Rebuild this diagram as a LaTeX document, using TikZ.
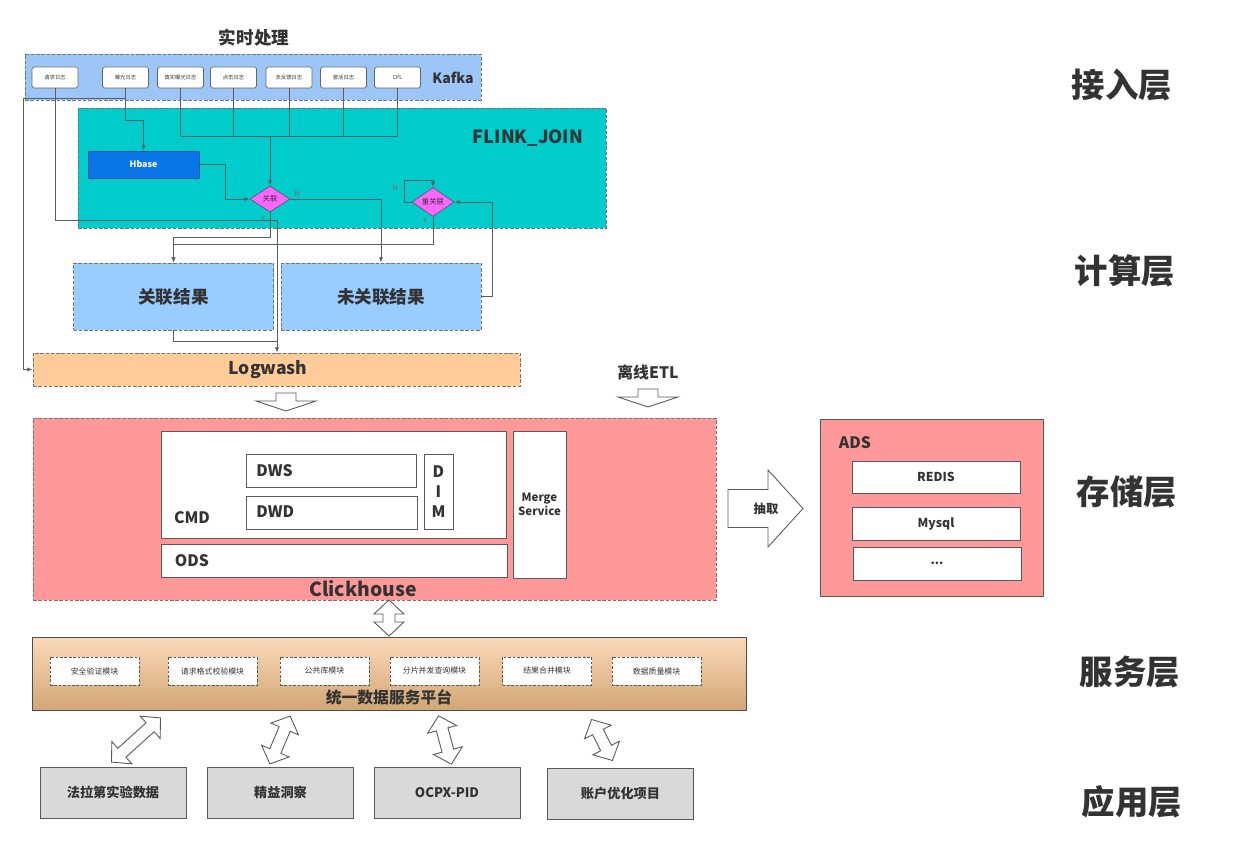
\documentclass[tikz,border=0pt]{standalone}
\usepackage{fontspec}
\setmainfont{Noto Sans CJK SC}
\usetikzlibrary{positioning, arrows.meta, shapes.geometric, calc}

\definecolor{kafkablue}{HTML}{9CC6F7}
\definecolor{flinkteal}{HTML}{00CCCC}
\definecolor{hbaseblue}{HTML}{0A75E6}
\definecolor{joinpink}{HTML}{FF66FF}
\definecolor{resblue}{HTML}{99CCFF}
\definecolor{washorange}{HTML}{FFCC99}
\definecolor{storered}{HTML}{FF9999}
\definecolor{plattop}{HTML}{FAD9B8}
\definecolor{platbot}{HTML}{D2A675}
\definecolor{appgray}{HTML}{D9D9D9}
\definecolor{linegray}{HTML}{55605F}
\definecolor{textdark}{HTML}{333333}
\definecolor{ynred}{HTML}{B0504D}

\newcommand{\fsz}[1]{\fontsize{#1}{#1}\selectfont}
\def\pxl{0.02cm}

\begin{document}
\begin{tikzpicture}[
    x=0.02cm, y=-0.02cm,
    every node/.style={text=textdark, inner sep=0pt},
    wh/.style 2 args={minimum width=#1*\pxl, minimum height=#2*\pxl},
    layerbox/.style={rectangle, draw=gray!90!black, dash pattern=on 2pt off 1pt, line width=0.5pt},
    topic/.style={rectangle, rounded corners=1pt, draw=gray!80!black, fill=white, line width=0.4pt, wh={46}{21}, font=\fsz{3}},
    joinbox/.style={diamond, draw=linegray, fill=joinpink, line width=0.4pt, font=\fsz{4.2}},
    result/.style={layerbox, fill=resblue, wh={200}{67}, font=\bfseries\fsz{10}},
    inbox/.style={rectangle, draw=gray!70!black, fill=white, line width=0.5pt},
    module/.style={rectangle, draw=gray!70!black, dash pattern=on 1.5pt off 1pt, fill=white, line width=0.4pt, wh={89}{28}, font=\fsz{4.5}},
    app/.style={rectangle, draw=gray!70!black, fill=appgray, line width=0.5pt, wh={146}{51}, font=\bfseries\fsz{7.5}},
    layer/.style={font=\bfseries\fsz{19}},
    yn/.style={font=\fsz{4}, text=ynred},
    wire/.style={draw=linegray, line width=0.5pt},
    feed/.style={wire, -{Latex[length=3pt,width=2.4pt]}},
    hollow/.style={draw=gray!70!black, fill=white, line width=0.5pt},
    downarrow/.pic={\draw[hollow] (-10,0) -- (10,0) -- (10,8) -- (30,8) -- (0,18) -- (-30,8) -- (-10,8) -- cycle;},
    rightarrow/.pic={\draw[hollow] (0,-19) -- (40,-19) -- (40,-38.5) -- (75,0) -- (40,38.5) -- (40,19) -- (0,19) -- cycle;},
    dblarrow/.pic={\draw[hollow] (0,-#1) -- (15,{-#1+14}) -- (6,{-#1+14}) -- (6,{#1-14}) -- (15,{#1-14}) -- (0,#1) -- (-15,{#1-14}) -- (-6,{#1-14}) -- (-6,{-#1+14}) -- (-15,{-#1+14}) -- cycle;}]

  \useasboundingbox (0,0) rectangle (1260,844);

  % realtime part
  \node[font=\bfseries\fsz{10}] (title) at (254,38) {实时处理};
  \node[layerbox, fill=kafkablue, wh={456}{46}] (kafka) at (253,77) {};
  \node[font=\bfseries\fsz{8}] (kafkalbl) at (453,78) {Kafka};
  \foreach \nm/\xx/\txt in {t1/55/请求日志, t2/125.5/曝光日志, t3/180.5/真实曝光日志, t4/233.5/点击日志,
                            t5/289/负反馈日志, t6/343.5/激活日志, t7/397.5/CPL}
    \node[topic] (\nm) at (\xx,77.5) {\txt};

  \node[layerbox, fill=flinkteal, wh={528}{120}] (flink) at (342,168) {};
  \node[font=\bfseries\fsz{10.3}] (flinklbl) at (528,138) {FLINK\_JOIN};
  \node[rectangle, fill=hbaseblue, draw=hbaseblue!70!black, line width=0.4pt, wh={111}{27}, text=white, font=\bfseries\fsz{5}] (hbase) at (143.5,164.5) {Hbase};
  \node[joinbox, wh={40}{26}] (join) at (270,199) {关联};
  \node[joinbox, wh={42}{28}] (rejoin) at (433,202) {重关联};

  \node[result] (res1) at (173.5,296.5) {关联结果};
  \node[result] (res2) at (381,296.5) {未关联结果};
  \node[layerbox, fill=washorange, wh={487}{33}] (logwash) at (276.5,369.5) {};
  \node[font=\bfseries\fsz{10}] (washlbl) at (268,370) {Logwash};

  % wiring
  \coordinate (busy) at (0,136);
  \foreach \t in {t3,t4,t5,t6,t7}
    \draw[wire] (\t.south) -- (\t.south |- busy);
  \draw[wire] (t3.south |- busy) -- (t7.south |- busy);
  \draw[feed] (join.north |- busy) -- (join.north);

  \coordinate (leftbus) at (23,98);
  \draw[wire] (t2.south) |- (leftbus);
  \draw[feed] (leftbus) |- (logwash.west);
  \coordinate (hbtop) at (143.5,120);
  \draw[feed] (t2.south) |- (hbtop) -- (hbase.north);

  \coordinate (passA) at (277,220);
  \coordinate (mergeA) at (277,341);
  \draw[feed] (t1.south) |- (passA) -- (passA |- logwash.north);
  \draw[wire] (res1.south) |- (mergeA);

  \coordinate (hbturn) at (225,0);
  \draw[feed] (hbase.east) -- (hbase.east -| hbturn) |- (join.west);
  \draw[feed] (join.east) -| (res2.north);
  \coordinate (yjoin) at (0,237);
  \draw[feed] (join.south) -- (join.south |- yjoin) -| (res1.north);
  \coordinate (yrejoin) at (0,244);
  \draw[feed] (rejoin.south) -- (rejoin.south |- yrejoin) -| (res1.north);
  \coordinate (loopc) at (404,180);
  \draw[feed] (rejoin.west) -| (loopc) -| (rejoin.north);
  \coordinate (backx) at (492,0);
  \draw[feed] (res2.east) -- (res2.east -| backx) |- (rejoin.east);

  \node[yn] (ny1) at (297,194) {N};
  \node[yn] (yy1) at (263,219) {Y};
  \node[yn] (ny2) at (395,188) {N};
  \node[yn] (yy2) at (425,221) {Y};

  % storage
  \pic (washdown) at (286,393) {downarrow};
  \node[font=\bfseries\fsz{9}] (etl) at (648,372) {离线ETL};
  \pic (etldown) at (648,389) {downarrow};

  \node[layerbox, fill=storered, wh={683}{182}] (click) at (374.5,509) {};
  \node[font=\bfseries\fsz{11}] (clicklbl) at (363,589) {Clickhouse};
  \node[inbox, wh={345}{107}] (cmd) at (333.5,484.5) {};
  \node[font=\bfseries\fsz{9}] (cmdlbl) at (192,518) {CMD};
  \node[inbox, wh={170}{33}] (dws) at (331,470.5) {};
  \node[font=\bfseries\fsz{9}, anchor=west] (dwslbl) at (256,471) {DWS};
  \node[inbox, wh={171}{33}] (dwd) at (331.5,512.5) {};
  \node[font=\bfseries\fsz{9}, anchor=west] (dwdlbl) at (256,512) {DWD};
  \node[inbox, wh={29}{75}, align=center, font=\bfseries\fontsize{9}{11.5}\selectfont] (dim) at (438.5,491.5) {D\\I\\M};
  \node[inbox, wh={346}{33}] (ods) at (334,560.5) {};
  \node[font=\bfseries\fsz{9}] (odslbl) at (192,561) {ODS};
  \node[inbox, wh={53}{147}, align=center, font=\bfseries\fontsize{6.5}{8}\selectfont] (merge) at (539.5,504.5) {Merge\\Service};

  \pic (pull) at (728,508.5) {rightarrow};
  \node[font=\bfseries\fsz{7}] (pulllbl) at (766,508.5) {抽取};

  \node[rectangle, draw=gray!70!black, fill=storered, line width=0.5pt, wh={223}{177}] (ads) at (931.5,507.5) {};
  \node[font=\bfseries\fsz{9}] (adslbl) at (855,443) {ADS};
  \node[inbox, wh={168}{32}, font=\bfseries\fsz{7}] (redis) at (936,477) {REDIS};
  \node[inbox, wh={168}{33}, font=\bfseries\fsz{7}] (mysql) at (936,523.5) {Mysql};
  \node[inbox, wh={168}{33}, font=\bfseries\fsz{7}] (more) at (937,563.5) {...};

  % service
  \pic (chdbl) at (389,618) {dblarrow=18};
  \node[rectangle, draw=gray!60!black, top color=plattop, bottom color=platbot, line width=0.5pt, wh={714}{73}] (platform) at (389,673.5) {};
  \node[font=\bfseries\fsz{9}] (platlbl) at (389,697) {统一数据服务平台};
  \foreach \nm/\xx/\txt in {m1/94.5/安全验证模块, m2/212.5/请求格式校验模块, m3/324.5/公共库模块,
                            m4/434.5/分片并发查询模块, m5/547/结果合并模块, m6/656.5/数据质量模块}
    \node[module] (\nm) at (\xx,671) {\txt};

  % applications
  \pic[rotate=-48] (a1dbl) at (136,740) {dblarrow=33};
  \pic[rotate=-23] (a2dbl) at (280,740) {dblarrow=26};
  \pic[rotate=15] (a3dbl) at (445,740) {dblarrow=25};
  \pic[rotate=27] (a4dbl) at (602,740) {dblarrow=23};
  \node[app] (app1) at (113,792.5) {法拉第实验数据};
  \node[app] (app2) at (280.5,792.5) {精益洞察};
  \node[app] (app3) at (447,792.5) {OCPX-PID};
  \node[app] (app4) at (620.5,794) {账户优化项目};

  % layers
  \node[layer] (l1) at (1122,85) {接入层};
  \node[layer] (l2) at (1125,271) {计算层};
  \node[layer] (l3) at (1127,492) {存储层};
  \node[layer] (l4) at (1130,672) {服务层};
  \node[layer] (l5) at (1132,802) {应用层};
\end{tikzpicture}
\end{document}
